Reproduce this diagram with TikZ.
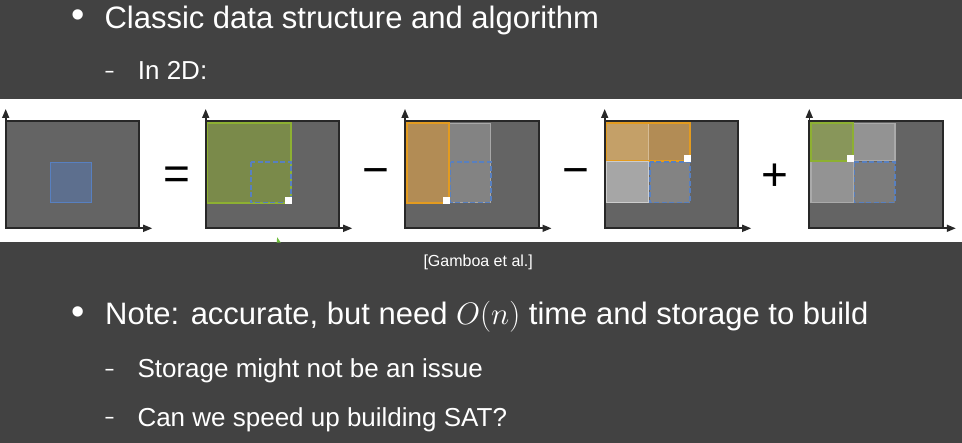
\RequirePackage{fix-cm}
\documentclass[tikz,border=0pt]{standalone}
\usepackage{fontspec}
\setmainfont{Liberation Sans}
\usetikzlibrary{arrows.meta}
\definecolor{slidebg}{RGB}{66,66,66}
\definecolor{panelgray}{RGB}{100,100,100}
\definecolor{panelborder}{RGB}{40,40,40}
\definecolor{sqblue}{RGB}{93,111,142}
\definecolor{lineblue}{RGB}{88,128,192}
\definecolor{greenfill}{RGB}{122,138,74}
\definecolor{greenfillB}{RGB}{136,150,90}
\definecolor{greenline}{RGB}{141,176,50}
\definecolor{orangefill}{RGB}{178,140,85}
\definecolor{orangefillL}{RGB}{196,160,104}
\definecolor{orangeline}{RGB}{227,155,31}
\definecolor{grayA}{RGB}{131,131,131}
\definecolor{grayAline}{RGB}{168,168,168}
\definecolor{grayB}{RGB}{166,166,166}
\definecolor{grayBline}{RGB}{205,205,205}
\definecolor{grayC}{RGB}{147,147,147}
\definecolor{grayCline}{RGB}{170,170,170}
\definecolor{markgreen}{RGB}{110,190,60}
\tikzset{
  panel/.style={fill=panelgray},
  panelframe/.style={draw=panelborder, line width=2pt},
  ax/.style={-{Triangle[length=9pt,width=7pt]}, line width=1.6pt, draw=panelborder},
  bluedash/.style={draw=lineblue, line width=1.6pt, dash pattern=on 5pt off 2.5pt},
  txt/.style={text=white, inner sep=0pt, anchor=base west},
  bigtxt/.style={txt, font=\fontsize{31}{37}\selectfont},
  subtxt/.style={txt, font=\fontsize{26}{31}\selectfont},
  bul/.style={text=white, inner sep=0pt, anchor=center, font=\fontsize{38}{44}\selectfont},
  subdash/.style={txt, font=\fontsize{16}{19}\selectfont\bfseries},
  oper/.style={text=black, inner sep=0pt, anchor=center, font=\fontsize{46}{50}\selectfont},
  whitesq/.style={fill=white},
}
\begin{document}
\begin{tikzpicture}[x=1pt,y=-1pt]
\useasboundingbox (0,0) rectangle (962,443);
\fill[slidebg] (0,0) rectangle (962,443);
\fill[white] (0,99) rectangle (962,242);
% panel backgrounds
\foreach \x in {5.7,205.7,405,604.7,809.3}{
  \fill[panel] (\x,121) rectangle (\x+133.5,228.3);
}
% panel 1
\begin{scope}[shift={(5.7,0)}]
  \filldraw[fill=sqblue, draw=lineblue, line width=1.5pt] (45,162.3) rectangle (86,202.7);
\end{scope}
% panel 2
\begin{scope}[shift={(205.7,0)}]
  \filldraw[fill=greenfill, draw=greenline, line width=1.8pt] (1.8,123.3) rectangle (85.5,202.7);
  \draw[bluedash] (45,162.3) rectangle (85.5,202.7);
  \fill[whitesq] (79.3,196.7) rectangle (86,203.8);
\end{scope}
% panel 3
\begin{scope}[shift={(405,0)}]
  \filldraw[fill=grayA, draw=grayAline, line width=1.5pt] (44.2,123.3) rectangle (85.7,202.7);
  \filldraw[fill=orangefill, draw=orangeline, line width=1.8pt] (1.8,123.3) rectangle (44.2,202.7);
  \draw[bluedash] (45.5,162.3) rectangle (85.7,202.7);
  \fill[whitesq] (37.7,196.7) rectangle (44.6,203.8);
\end{scope}
% panel 4
\begin{scope}[shift={(604.7,0)}]
  \fill[orangefillL] (1.8,123.3) rectangle (44,160.7);
  \fill[orangefill] (44,123.3) rectangle (85.4,160.7);
  \draw[orangefillL!70!white, line width=1pt] (44,123.3) -- (44,160.7);
  \draw[orangeline, line width=1.8pt] (1.8,123.3) rectangle (85.4,160.7);
  \filldraw[fill=grayB, draw=grayBline, line width=1.5pt] (1.8,161.6) rectangle (44,202.7);
  \filldraw[fill=grayA, bluedash] (45,162.3) rectangle (85.4,202.7);
  \fill[whitesq] (79.3,155.3) rectangle (85.8,161.9);
\end{scope}
% panel 5
\begin{scope}[shift={(809.3,0)}]
  \filldraw[fill=grayC, draw=grayCline, line width=1.5pt] (44.2,123.3) rectangle (85.7,160.7);
  \filldraw[fill=grayC, draw=grayCline, line width=1.5pt] (1.8,161.6) rectangle (44.2,202.7);
  \filldraw[fill=greenfillB, draw=greenline, line width=1.8pt] (1.8,123.3) rectangle (44,160.7);
  \filldraw[fill=grayA!95!black, bluedash] (45,162.3) rectangle (85.7,202.7);
  \fill[whitesq] (38,155.3) rectangle (44.4,161.9);
\end{scope}
% frames and axes
\foreach \x in {5.7,205.7,405,604.7,809.3}{
  \draw[panelframe] (\x,121) rectangle (\x+133.5,228.3);
  \draw[ax] (\x,228.3) -- (\x,109);
  \draw[ax] (\x,228.3) -- (\x+146.5,228.3);
}
% operators
\node[oper] (eq) at (176.7,178) {=};
\node[oper] (m1) at (376.2,177.3) {−};
\node[oper] (m2) at (575.7,177.3) {−};
\node[oper] (pl) at (775.3,177.3) {+};
% small green mark
\fill[markgreen] (276.7,242.6) -- (277.2,237.3) -- (280.8,242.6) -- cycle;
% texts
\node[bul] (b1) at (78,18.5) {•};
\node[bigtxt] (l1) at (104.3,28.5) {Classic data structure and algorithm};
\node[subdash] (d1) at (105,76.1) {–};
\node[subtxt] (l2) at (137.7,79.3) {In 2D:};
\node[txt, font=\fontsize{16}{19}\selectfont] (cap) at (423.3,266.7) {[Gamboa et al.]};
\node[bul] (b2) at (78,315.5) {•};
\node[bigtxt] (l3) at (105,324.3) {Note: accurate, but need $O(n)$ time and storage to build};
\node[subdash] (d2) at (105,374.4) {–};
\node[subtxt] (l4) at (137.3,377.3) {Storage might not be an issue};
\node[subdash] (d3) at (105,422.7) {–};
\node[subtxt] (l5) at (137.3,426.7) {Can we speed up building SAT?};
\end{tikzpicture}
\end{document}
